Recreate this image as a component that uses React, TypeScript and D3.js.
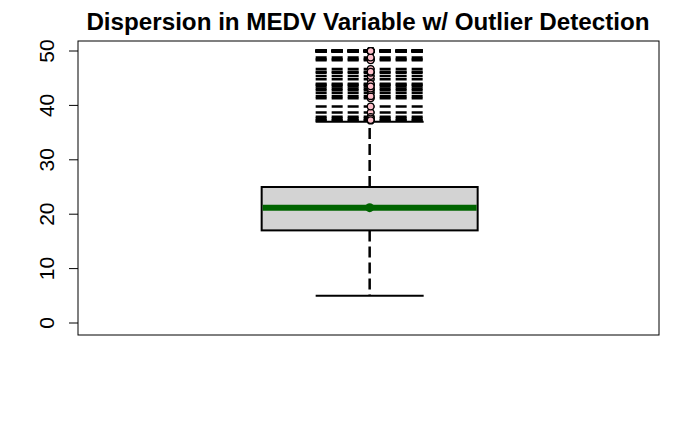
import React from "react";
import * as d3 from "d3";

const title = "Dispersion in MEDV Variable w/ Outlier Detection";
const yTicks = [0, 10, 20, 30, 40, 50];
const fiveNum = { lowerWhisker: 5.0, q1: 17.025, median: 21.2, q3: 25.0, upperWhisker: 37.0 };
const outliers = [
  38.7, 43.8, 41.3, 50.0, 50.0, 50.0, 50.0, 37.2, 39.8, 37.9, 50.0, 50.0, 42.3, 48.5, 50.0,
  44.8, 50.0, 37.6, 46.7, 41.7, 48.3, 42.8, 44.0, 50.0, 43.1, 48.8, 50.0, 43.5, 45.4, 46.0,
  50.0, 37.3, 50.0, 46.2, 50.0, 50.0, 50.0, 50.0, 50.0, 50.0,
];

const W = 700, H = 432;
const plot = { left: 78, right: 659, top: 41, bottom: 335 };

export default function App() {
  const y = d3.scaleLinear().domain([0, 50]).range([323, 51]);
  const x = d3.scaleLinear().domain([0, 1]).range([plot.left, plot.right]);
  const cx = x(0.502);
  const boxHalf = 108;
  const stapleHalf = 54;
  const dash = "11,5";
  return (
    <svg width={W} height={H} style={{ position: "absolute", left: 0, top: 0, background: "#fff" }}
      fontFamily="'Liberation Sans', Arial, sans-serif">
      <text x={368} y={30} textAnchor="middle" fontWeight="bold" fontSize={24.2}>{title}</text>
      <rect x={plot.left} y={plot.top} width={plot.right - plot.left} height={plot.bottom - plot.top}
        fill="none" stroke="#000" strokeWidth={1} />
      {yTicks.map((t) => (
        <g key={t}>
          <line x1={plot.left - 9} x2={plot.left} y1={y(t)} y2={y(t)} stroke="#000" strokeWidth={1} />
          <text transform={`translate(${46},${y(t)}) rotate(-90)`} textAnchor="middle" fontSize={21}
            dy="0.36em">{t}</text>
        </g>
      ))}
      {/* outlier dashed lines */}
      {outliers.map((v, i) => (
        <line key={"ol" + i} x1={cx - stapleHalf} x2={cx + stapleHalf} y1={y(v)} y2={y(v)}
          stroke="#000" strokeWidth={2.5} strokeDasharray={dash} />
      ))}
      {/* whiskers */}
      <line x1={cx} x2={cx} y1={y(fiveNum.q3)} y2={y(fiveNum.upperWhisker)} stroke="#000" strokeWidth={2.5}
        strokeDasharray={dash} />
      <line x1={cx} x2={cx} y1={y(fiveNum.q1)} y2={y(fiveNum.lowerWhisker)} stroke="#000" strokeWidth={2.5}
        strokeDasharray={dash} />
      <line x1={cx - stapleHalf} x2={cx + stapleHalf} y1={y(fiveNum.upperWhisker)} y2={y(fiveNum.upperWhisker)}
        stroke="#000" strokeWidth={2} />
      <line x1={cx - stapleHalf} x2={cx + stapleHalf} y1={y(fiveNum.lowerWhisker)} y2={y(fiveNum.lowerWhisker)}
        stroke="#000" strokeWidth={2} />
      {/* box */}
      <rect x={cx - boxHalf} y={y(fiveNum.q3)} width={boxHalf * 2} height={y(fiveNum.q1) - y(fiveNum.q3)}
        fill="#d3d3d3" stroke="#000" strokeWidth={2} />
      <line x1={cx - boxHalf + 1} x2={cx + boxHalf - 1} y1={y(fiveNum.median)} y2={y(fiveNum.median)}
        stroke="#006400" strokeWidth={6} />
      <circle cx={cx} cy={y(fiveNum.median)} r={4.5} fill="#006400" />
      {/* outlier points */}
      {outliers.map((v, i) => (
        <circle key={"op" + i} cx={cx + 1} cy={y(v)} r={3.3} fill="#ffc0cb" stroke="#000" strokeWidth={1.2} />
      ))}
    </svg>
  );
}
